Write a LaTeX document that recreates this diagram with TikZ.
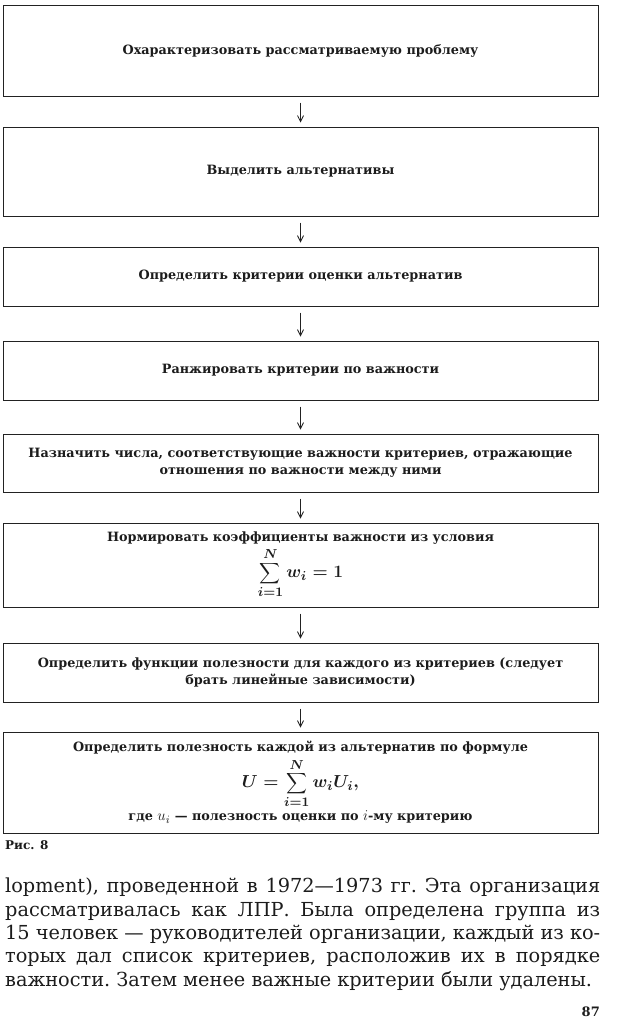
\documentclass[tikz,border=0pt]{standalone}
\usepackage{fontspec}
\setmainfont{DejaVu Serif}
\usepackage{graphicx}
\usepackage{tikz}
\usetikzlibrary{
  arrows.meta,
  positioning
}
\definecolor{inkTxt}{HTML}{1C1C1C}
\definecolor{inkStroke}{HTML}{222222}
\tikzset{
  stage/.style={
    rectangle, align=center, draw=inkStroke, line width=1pt,
    text=inkTxt, minimum width=595pt, inner sep=4pt,
    font=\fontsize{12.8}{17}\selectfont\bfseries
  },
  arr/.style={-{Straight Barb[length=6pt,width=6pt]},
    line width=0.8pt, color=inkStroke, shorten <=6pt, shorten >=4pt},
  body/.style={
    text width=595pt, align=justify, inner sep=0pt, text=inkTxt,
    font=\fontsize{19.3}{23.3}\selectfont
  },
  figlbl/.style={font=\fontsize{12}{14}\selectfont\bfseries, text=inkTxt, inner sep=0pt}
}
\newcommand{\bigmath}[1]{\scalebox{1.45}{\boldmath$\displaystyle #1$}}
\newcommand{\txtmath}[1]{\scalebox{1.25}{$#1$}}

\begin{document}
\begin{tikzpicture}[x=1pt, y=1pt]

    \fill[white] (0,0) rectangle (620,-1021);
    \useasboundingbox (0,0) rectangle (620,-1021);

    \node[stage, minimum height=91pt] (S1) at (300.5,-50.5)
      {Охарактеризовать рассматриваемую проблему};

    \node[stage, minimum height=89pt, below=30pt of S1] (S2)
      {Выделить альтернативы};

    \node[stage, minimum height=59pt, below=30pt of S2] (S3)
      {Определить критерии оценки альтернатив};

    \node[stage, minimum height=59pt, below=34pt of S3] (S4)
      {Ранжировать критерии по важности};

    \node[stage, minimum height=58pt, below=33pt of S4] (S5)
      {Назначить числа, соответствующие важности критериев, отражающие\\
       отношения по важности между ними};

    \node[stage, minimum height=84pt, below=30pt of S5] (S6)
      {Нормировать коэффициенты важности из условия\\[3pt]
       \bigmath{\sum_{i=1}^{N} w_i = 1}};

    \node[stage, minimum height=59pt, below=35pt of S6] (S7)
      {Определить функции полезности для каждого из критериев (следует\\
       брать линейные зависимости)};

    \node[stage, minimum height=101pt, below=29pt of S7] (S8)
      {Определить полезность каждой из альтернатив по формуле\\[3pt]
       \bigmath{U = \sum_{i=1}^{N} w_i U_i,}\\[2pt]
       где \txtmath{u_i} — полезность оценки по \txtmath{i}-му критерию};

    \draw[arr] (S1) -- (S2);
    \draw[arr] (S2) -- (S3);
    \draw[arr] (S3) -- (S4);
    \draw[arr] (S4) -- (S5);
    \draw[arr] (S5) -- (S6);
    \draw[arr] (S6) -- (S7);
    \draw[arr] (S7) -- (S8);

    \node[figlbl, anchor=west] (fig) at (5,-845) {Рис. 8};

    \node[body, anchor=north west] (para) at (5,-878)
      {\parfillskip=0pt \hyphenpenalty=10000 \emergencystretch=3em \frenchspacing
       lopment), проведенной в 1972—1973 гг. Эта организация\linebreak
       рассматривалась как ЛПР. Была определена группа из\linebreak
       15 человек~— руководителей организации, каждый из ко-\linebreak
       торых дал список критериев, расположив их в порядке\linebreak
       важности. Затем менее важные критерии были удалены.};

    \node[figlbl, font=\fontsize{13}{15}\selectfont\bfseries, anchor=east] (pg)
      at (600,-1012) {87};

  \end{tikzpicture}
\end{document}
